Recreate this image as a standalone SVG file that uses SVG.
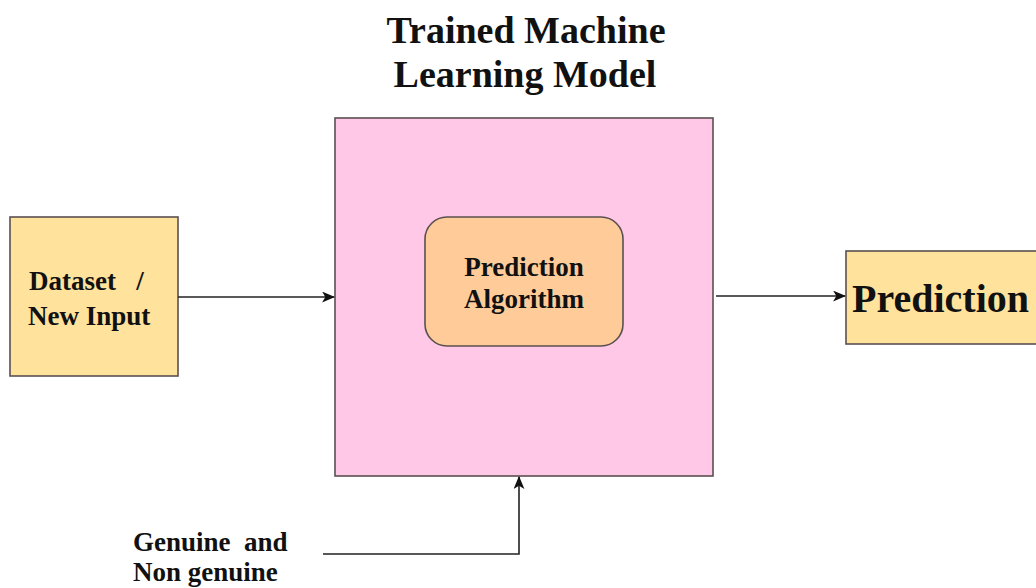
<svg xmlns="http://www.w3.org/2000/svg" width="1036" height="588" viewBox="0 0 1036 588">
  <style>
    .lbl { font-family: "Liberation Serif", "Times New Roman", serif; font-weight: bold; fill: #111; }
    .box { stroke: #5a5050; stroke-width: 1.6; }
    .edge { fill: none; stroke: #222; stroke-width: 1.6; }
  </style>
  <defs>
    <marker id="arrow" viewBox="0 0 12 10" refX="11" refY="5" markerWidth="13" markerHeight="11" markerUnits="userSpaceOnUse" orient="auto">
      <path d="M0,0 L12,5 L0,10 L3,5 Z" fill="#111"/>
    </marker>
  </defs>
  <rect width="1036" height="588" fill="#ffffff"/>

  <g id="title">
    <text class="lbl" x="526" y="43" font-size="38" text-anchor="middle">Trained Machine</text>
    <text class="lbl" x="525" y="87" font-size="38" text-anchor="middle">Learning Model</text>
  </g>

  <g id="model">
    <rect class="box" x="335" y="118" width="378" height="358" fill="#ffc8e6"/>
  </g>

  <g id="algorithm">
    <rect class="box" x="425" y="217" width="198" height="129" rx="22" ry="22" fill="#ffcc99"/>
    <text class="lbl" x="524" y="276" font-size="27" text-anchor="middle">Prediction</text>
    <text class="lbl" x="524" y="308" font-size="27" text-anchor="middle">Algorithm</text>
  </g>

  <g id="input">
    <rect class="box" x="10" y="217" width="168" height="159" fill="#ffe29c"/>
    <text class="lbl" x="29" y="290" font-size="27" xml:space="preserve">Dataset   /</text>
    <text class="lbl" x="28" y="325" font-size="27">New Input</text>
  </g>

  <g id="prediction">
    <rect class="box" x="846" y="251" width="200" height="93" fill="#ffe29c"/>
    <text class="lbl" x="852" y="312" font-size="40">Prediction</text>
  </g>

  <g id="labels">
    <text class="lbl" x="133" y="551" font-size="27" xml:space="preserve">Genuine  and</text>
    <text class="lbl" x="133" y="581" font-size="27">Non genuine</text>
  </g>

  <g id="connectors">
    <path class="edge" d="M178,297 L334,297" marker-end="url(#arrow)"/>
    <path class="edge" d="M716,296 L845,296" marker-end="url(#arrow)"/>
    <path class="edge" d="M323,554 L519,554 L519,477" marker-end="url(#arrow)"/>
  </g>
</svg>
